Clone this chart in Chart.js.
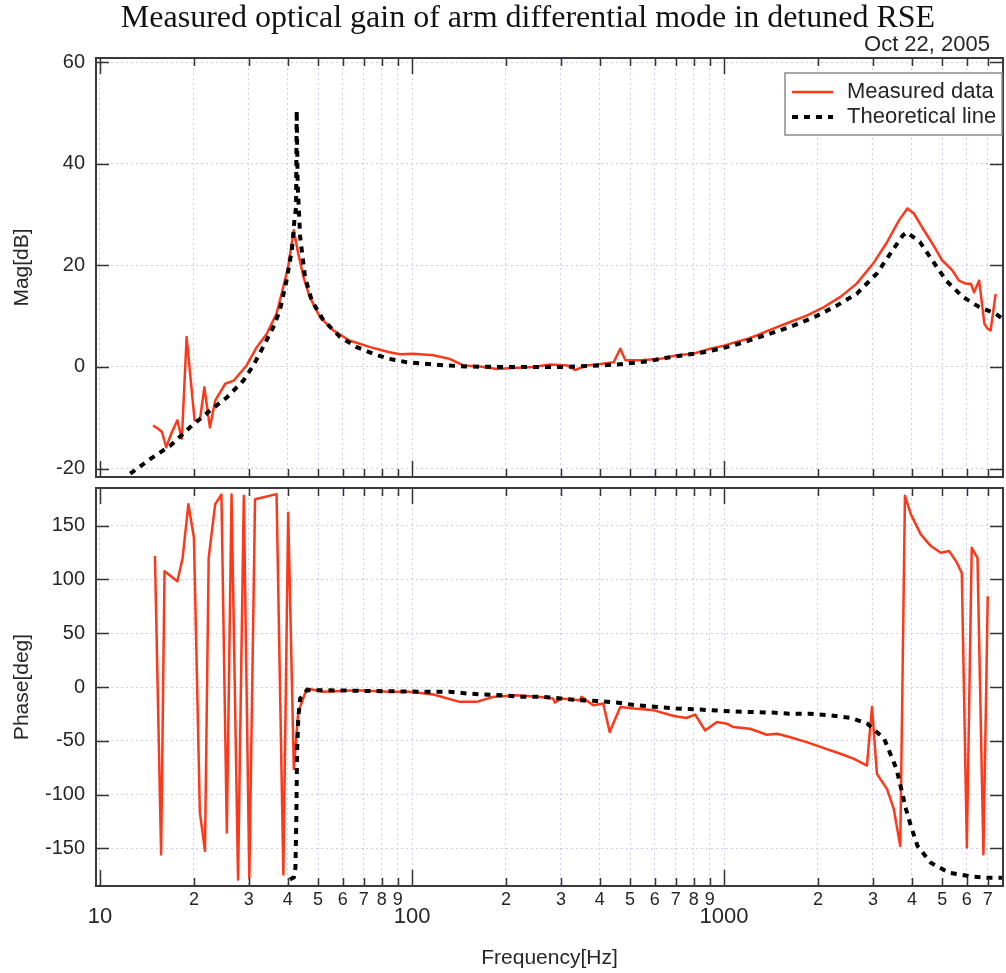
<!DOCTYPE html>
<html>
<head>
<meta charset="utf-8">
<script src="https://cdn.jsdelivr.net/npm/chart.js@4.4.0/dist/chart.umd.min.js"></script>
<style>
  html, body { margin: 0; padding: 0; background: #fff; }
  #wrap { position: relative; width: 1006px; height: 973px; }
  #mag { position: absolute; left: 0; top: 0; }
  #phase { position: absolute; left: 0; top: 480px; }
</style>
</head>
<body>
<div id="wrap">
  <canvas id="mag" width="1006" height="480"></canvas>
  <canvas id="phase" width="1006" height="493"></canvas>
</div>
<script>
const titleText = "Measured optical gain of arm differential mode in detuned RSE";
const dateText = "Oct 22, 2005";

// frequency axis (Hz)
const freqMin = 9.71;
const freqMax = 7834;
const freqTicks = [10, 20, 30, 40, 50, 60, 70, 80, 90,
  100, 200, 300, 400, 500, 600, 700, 800, 900,
  1000, 2000, 3000, 4000, 5000, 6000, 7000];
const magTicks = [-20, 0, 20, 40, 60];
const phaseTicks = [-150, -100, -50, 0, 50, 100, 150];

// measured magnitude
const magMeasFreq = [14.8, 15.4, 15.8, 16.3, 16.9, 17.7, 18.3, 18.95, 20.1, 20.9,
  21.6, 22.5, 23.4, 25.2, 26.8, 29.5, 31.8, 34.2, 36.8, 38.2,
  40.1, 41.8, 43.2, 44.9, 47.0, 50.7, 55.9, 63, 73.4, 84.6,
  91.5, 101, 117, 132, 146, 165, 187, 211, 245, 277,
  314, 333, 363, 402, 443, 465, 483, 540, 627, 705,
  797, 902, 1000, 1075, 1200, 1270, 1430, 1620, 1840, 2090,
  2360, 2660, 3000, 3310, 3640, 3870, 4060, 4310, 4650, 5000,
  5390, 5660, 5950, 6180, 6330, 6570, 6830, 7000, 7150, 7420];
const magMeasDb = [-11.5, -12.2, -12.8, -15.8, -13.2, -10.5, -14.1, 5.9, -10.5, -10.5,
  -4.0, -11.9, -6.6, -3.3, -2.7, 0.3, 3.9, 6.5, 10.5, 14.4,
  19.7, 26.9, 22.3, 17.7, 13.8, 9.8, 7.2, 5.2, 3.9, 2.9,
  2.5, 2.6, 2.3, 1.6, 0.3, 0.1, -0.4, -0.2, 0, 0.5,
  0.3, -0.6, 0.3, 0.6, 0.95, 3.6, 1.3, 1.3, 1.6, 2.3,
  2.6, 3.6, 4.2, 4.8, 5.6, 6.2, 7.5, 8.8, 10.1, 11.8,
  13.8, 16.4, 20.3, 24.3, 28.9, 31.2, 30.2, 27.5, 24.3, 21.0,
  19.0, 17.0, 16.4, 16.4, 14.7, 17.0, 8.5, 7.5, 7.2, 14.4];

// theoretical magnitude
const magTheoFreq = [12.5, 14.5, 16.8, 19.4, 22.5, 25.5, 28.8, 31, 33.3, 35.9,
  37.7, 39.6, 41.2, 41.9, 42.5, 42.7, 43.0, 43.8, 45.4, 47.7,
  52, 58.8, 66.5, 75, 84.6, 96, 113, 129, 150, 191,
  226, 263, 305, 410, 475, 567, 655, 740, 862, 1020,
  1120, 1300, 1510, 1730, 1990, 2300, 2660, 3090, 3410, 3740,
  3850, 4240, 4650, 5150, 5820, 6570, 7420, 7940];
const magTheoDb = [-21.0, -18.1, -15.5, -11.9, -8.6, -6.0, -2.7, 0.3, 3.9, 7.8,
  11.1, 17.0, 23.0, 28.3, 31.5, 50.5, 36.0, 25.6, 17.7, 13.1,
  9.2, 5.9, 3.9, 2.6, 1.6, 0.95, 0.6, 0.3, 0.1, 0,
  0, 0, 0, 0.3, 0.6, 1.1, 1.8, 2.3, 2.9, 3.9,
  4.6, 5.9, 7.2, 8.5, 10.1, 12.1, 14.4, 18.4, 22.3, 25.9,
  26.5, 24.6, 21.0, 17.0, 13.8, 11.8, 10.5, 9.2];

// measured phase
const phaseMeasFreq = [15.0, 15.7, 16.1, 17.7, 18.4, 19.2, 20.0, 20.9, 21.7, 22.3,
  23.4, 24.5, 25.5, 26.4, 27.7, 28.9, 30.1, 31.4, 36.8, 38.7,
  40.1, 41.8, 43.2, 46, 52, 66.5, 84.6, 98.5, 117, 142,
  161, 182, 216, 258, 283, 287, 300, 345, 349, 381,
  410, 430, 465, 514, 597, 690, 757, 808, 870, 948,
  1020, 1070, 1210, 1370, 1480, 1620, 1840, 2090, 2360, 2610,
  2870, 2980, 3090, 3330, 3500, 3670, 3800, 3970, 4270, 4600,
  4950, 5260, 5540, 5780, 6000, 6220, 6490, 6780, 7000];
const phaseMeasDeg = [121.7, -155.6, 107.7, 98.3, 120, 170, 138.8, -116.6, -152.5, 120,
  170, 179, -135.3, 179, -179, 177.8, -177.4, 174.6, 179.3, -174.3,
  162.1, -76.2, -23.2, -1.4, -4.5, -3, -4.5, -4.5, -7, -13.8,
  -13.8, -9.2, -7.7, -9.2, -10.7, -14.5, -10.7, -12.3, -9.2, -17,
  -15.4, -41.9, -18.5, -20, -21.7, -27, -28.8, -25.7, -40.4, -32.5,
  -34.1, -37.2, -38.8, -44.4, -43.5, -46.5, -51.2, -56.8, -62.1, -66.8,
  -73, -18.5, -80.8, -94.9, -113.6, -147.9, 177.8, 160.5, 141.9, 131,
  124.8, 126.4, 117, 106, -149.3, 129.4, 120, -155.6, 84.3];

// theoretical phase
const phaseTheoFreq = [40.6, 41.8, 42.3, 42.6, 42.8, 43.2, 43.8, 46, 52, 66.5,
  84.6, 98.5, 114, 132, 150, 170, 196, 222, 258, 300,
  345, 402, 452, 525, 610, 705, 840, 1000, 1190, 1430,
  1620, 1880, 2190, 2550, 2880, 3260, 3570, 3720, 3830, 3970,
  4170, 4600, 5260, 6120, 6980, 7800];
const phaseTheoDeg = [-179, -177, -168, -120, -62, -29, -10.7, -3, -3, -3.5,
  -4, -4.2, -4.5, -4.5, -6, -7, -7.6, -9, -9, -10.7,
  -12.3, -13.2, -14.5, -17, -18.5, -20, -21, -22.3, -23.2, -23.8,
  -24.8, -24.8, -26.4, -28.8, -34.1, -48.1, -76.2, -97.9, -113.6, -129.2,
  -147.9, -163.4, -172.7, -175.9, -177.4, -177.4];

const SANS = "'Liberation Sans', Arial, Helvetica, sans-serif";
const SERIF = "'Liberation Serif', 'Times New Roman', serif";
const INK = "#262626";
const RED = "rgb(255, 56, 26)";
const GRID = "rgba(200, 202, 238, 0.9)";

function pts(xs, ys) {
  return xs.map((f, i) => ({ x: f, y: ys[i] }));
}

function isDecade(v) {
  const d = Math.pow(10, Math.floor(Math.log10(v) + 1e-9));
  return Math.round(v / d) === 1;
}

function freqLabel(v) {
  const d = Math.pow(10, Math.floor(Math.log10(v) + 1e-9));
  const lead = Math.round(v / d);
  return lead === 1 ? ["", String(v)] : String(lead);
}

// labels must not push the plot area around
function noLabelPadding(s) {
  s.paddingTop = 0;
  s.paddingBottom = 0;
  s.paddingLeft = 0;
  s.paddingRight = 0;
}

function freqScale(showLabels) {
  return {
    type: "logarithmic",
    min: freqMin,
    max: freqMax,
    afterBuildTicks: s => { s.ticks = freqTicks.map(v => ({ value: v })); },
    afterFit: s => { s.height = showLabels ? 87 : 0; noLabelPadding(s); },
    grid: { color: GRID, lineWidth: 1, drawTicks: false },
    border: { display: false, dash: [2, 3] },
    ticks: {
      display: showLabels,
      autoSkip: false,
      maxRotation: 0,
      minRotation: 0,
      padding: 4,
      color: INK,
      font: c => (c.tick && isDecade(c.tick.value))
        ? { family: SANS, size: 22, lineHeight: 0.82 }
        : { family: SANS, size: 18, lineHeight: 1.1 },
      callback: v => freqLabel(v)
    },
    title: {
      display: showLabels,
      text: "Frequency[Hz]",
      color: INK,
      font: { family: SANS, size: 21 },
      padding: { top: 0, bottom: 2 }
    }
  };
}

function levelScale(min, max, tickList, title) {
  return {
    min: min,
    max: max,
    afterBuildTicks: s => { s.ticks = tickList.map(v => ({ value: v })); },
    afterFit: s => { s.width = 96; noLabelPadding(s); },
    grid: { color: GRID, lineWidth: 1, drawTicks: false },
    border: { display: false, dash: [2, 3] },
    ticks: { color: INK, padding: 11, font: { family: SANS, size: 20 } },
    title: {
      display: true,
      text: title,
      color: INK,
      font: { family: SANS, size: 21 },
      padding: { top: 10, bottom: 0 }
    }
  };
}

// frame around the plot area with inward ticks on all four sides
const frameTicks = {
  id: "frameTicks",
  afterDraw(chart) {
    const { ctx, chartArea: a, scales: { x, y } } = chart;
    ctx.save();
    ctx.strokeStyle = "#333";
    ctx.lineWidth = 1.5;
    ctx.beginPath();
    x.ticks.forEach(t => {
      const px = Math.round(x.getPixelForValue(t.value)) + 0.5;
      const len = isDecade(t.value) ? 16 : 8;
      ctx.moveTo(px, a.bottom); ctx.lineTo(px, a.bottom - len);
      ctx.moveTo(px, a.top); ctx.lineTo(px, a.top + len);
    });
    y.ticks.forEach(t => {
      const py = Math.round(y.getPixelForValue(t.value)) + 0.5;
      ctx.moveTo(a.left, py); ctx.lineTo(a.left + 13, py);
      ctx.moveTo(a.right, py); ctx.lineTo(a.right - 13, py);
    });
    ctx.stroke();
    ctx.lineWidth = 2;
    ctx.strokeStyle = "#3a3a3a";
    ctx.strokeRect(a.left, a.top, a.right - a.left, a.bottom - a.top);
    ctx.restore();
  }
};

// boxed legend in the upper right of the magnitude plot
const boxLegend = {
  id: "boxLegend",
  afterDraw(chart, args, opts) {
    if (!opts.show) return;
    const ctx = chart.ctx;
    const { left, top, width, height } = opts;
    ctx.save();
    ctx.fillStyle = "#fff";
    ctx.fillRect(left, top, width, height);
    ctx.strokeStyle = "#8c8c8c";
    ctx.lineWidth = 1.5;
    ctx.strokeRect(left, top, width, height);
    ctx.font = "22px " + SANS;
    ctx.textBaseline = "middle";
    chart.data.datasets.forEach((ds, i) => {
      const cy = top + 19 + i * 25;
      ctx.strokeStyle = ds.borderColor;
      ctx.lineWidth = ds.borderWidth;
      ctx.setLineDash(ds.borderDash || []);
      ctx.beginPath();
      ctx.moveTo(left + 7, cy);
      ctx.lineTo(left + 48, cy);
      ctx.stroke();
      ctx.setLineDash([]);
      ctx.fillStyle = INK;
      ctx.fillText(ds.label, left + 62, cy);
    });
    ctx.restore();
  }
};

// serif title and date line above the magnitude plot
const header = {
  id: "header",
  afterDraw(chart, args, opts) {
    if (!opts.show) return;
    const ctx = chart.ctx;
    ctx.save();
    ctx.fillStyle = "#111";
    ctx.textBaseline = "middle";
    ctx.textAlign = "center";
    ctx.font = "32px " + SERIF;
    ctx.fillText(titleText, 528, 19);
    ctx.textAlign = "right";
    ctx.font = "22px " + SANS;
    ctx.fillStyle = INK;
    ctx.fillText(dateText, 990, 45);
    ctx.restore();
  }
};

function measured(xs, ys) {
  return {
    label: "Measured data",
    data: pts(xs, ys),
    borderColor: RED,
    borderWidth: 2.5,
    borderJoinStyle: "round",
    pointRadius: 0,
    order: 2
  };
}

function theoretical(xs, ys) {
  return {
    label: "Theoretical line",
    data: pts(xs, ys),
    borderColor: "#000",
    borderWidth: 4,
    borderDash: [6, 6],
    pointRadius: 0,
    order: 1
  };
}

function baseOptions(padding, showHeader) {
  return {
    responsive: false,
    animation: false,
    devicePixelRatio: 1,
    layout: { padding: padding },
    plugins: {
      legend: { display: false },
      tooltip: { enabled: false },
      boxLegend: { show: showHeader, left: 785, top: 73, width: 217, height: 62 },
      header: { show: showHeader }
    }
  };
}

const magOpts = baseOptions({ top: 58, right: 3, bottom: 3, left: 0 }, true);
magOpts.scales = {
  x: freqScale(false),
  y: levelScale(-21.65, 60.8, magTicks, "Mag[dB]")
};

new Chart(document.getElementById("mag"), {
  type: "line",
  data: {
    datasets: [measured(magMeasFreq, magMeasDb), theoretical(magTheoFreq, magTheoDb)]
  },
  options: magOpts,
  plugins: [frameTicks, boxLegend, header]
});

const phaseOpts = baseOptions({ top: 8, right: 3, bottom: 0, left: 0 }, false);
phaseOpts.scales = {
  x: freqScale(true),
  y: levelScale(-185, 185, phaseTicks, "Phase[deg]")
};

new Chart(document.getElementById("phase"), {
  type: "line",
  data: {
    datasets: [measured(phaseMeasFreq, phaseMeasDeg), theoretical(phaseTheoFreq, phaseTheoDeg)]
  },
  options: phaseOpts,
  plugins: [frameTicks, boxLegend, header]
});
</script>
</body>
</html>
